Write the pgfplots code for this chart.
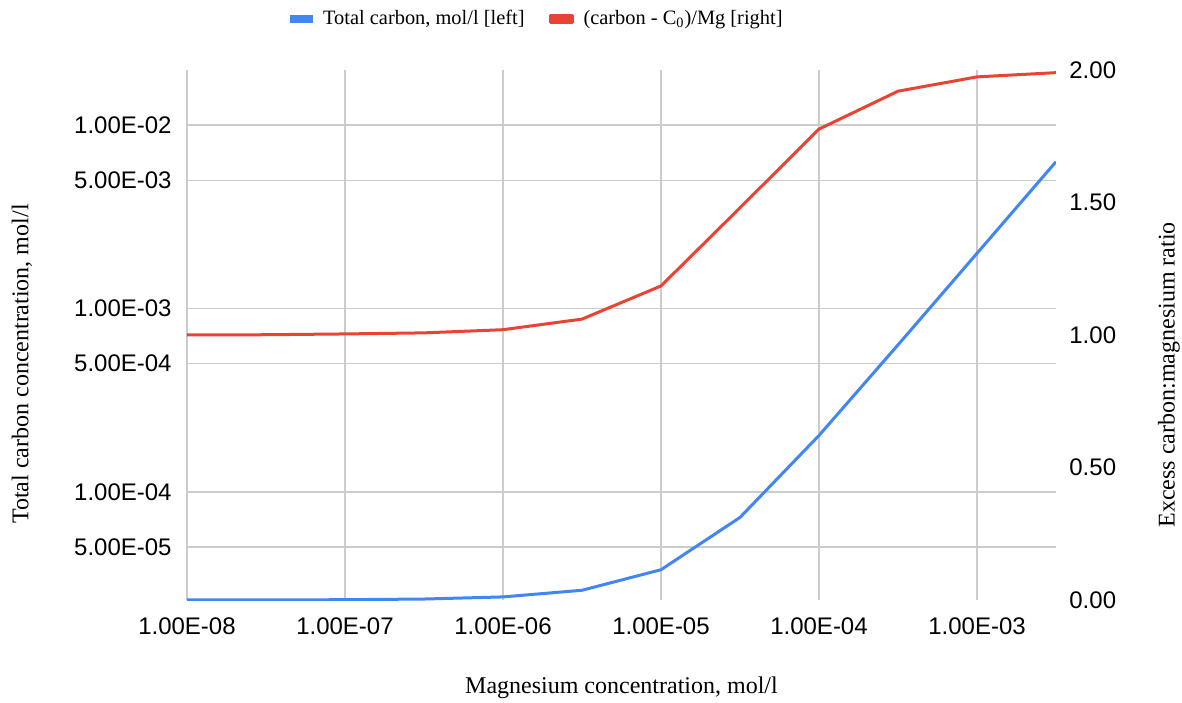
\documentclass[border=0pt]{standalone}
\usepackage{pgfplots}
\pgfplotsset{compat=1.18}
\usepackage{fontspec}
\setmainfont{Liberation Serif}
\newfontfamily\arialf{Liberation Sans}

\definecolor{cblue}{HTML}{4285F4}
\definecolor{cred}{HTML}{EA4335}
\definecolor{gridgray}{HTML}{CCCCCC}

\begin{document}
\begin{tikzpicture}
\useasboundingbox (0,0) rectangle (591pt,351pt);

% left axis: total carbon (log)
\begin{axis}[
    scale only axis,
    width=434.5pt, height=265pt,
    at={(93.5pt,51pt)},
    xmode=log, ymode=log,
    xmin=1e-8, xmax=3.162e-3,
    ymin=2.57e-5, ymax=2.0e-2,
    axis line style={draw=none},
    tick style={draw=none},
    xminorticks=false, yminorticks=false,
    major tick length=0pt,
    tick label style={font=\arialf\fontsize{12}{14}\selectfont},
    label style={font=\fontsize{12}{14}\selectfont},
    xtick={1e-8,1e-7,1e-6,1e-5,1e-4,1e-3},
    xticklabels={1.00E-08,1.00E-07,1.00E-06,1.00E-05,1.00E-04,1.00E-03},
    ytick={5e-5,1e-4,5e-4,1e-3,5e-3,1e-2},
    yticklabels={5.00E-05,1.00E-04,5.00E-04,1.00E-03,5.00E-03,1.00E-02},
    xticklabel style={anchor=north, inner sep=0pt, yshift=-8.5pt},
    yticklabel style={anchor=east, inner sep=0pt, xshift=-7.5pt},
    xmajorgrids, ymajorgrids,
    major grid style={gridgray, line width=0.75pt},
    xlabel={Magnesium concentration, mol/l},
    xlabel style={at={(axis description cs:0.5,-0.166)}, anchor=center},
    ylabel={Total carbon concentration, mol/l},
    ylabel style={at={(axis description cs:-0.19,0.445)}, anchor=center},
]
\addplot[cblue, line width=1.5pt, line join=round] coordinates {
    (1e-8,2.571e-5) (3.162e-8,2.573e-5) (1e-7,2.580e-5) (3.162e-7,2.602e-5)
    (1e-6,2.672e-5) (3.162e-6,2.905e-5) (1e-5,3.76e-5) (3.162e-5,7.25e-5)
    (1e-4,2.03e-4) (3.162e-4,6.33e-4) (1e-3,2.0e-3) (3.162e-3,6.32e-3)
};
\end{axis}

% right axis: excess carbon / Mg ratio
\begin{axis}[
    scale only axis,
    width=434.5pt, height=265pt,
    at={(93.5pt,51pt)},
    xmode=log,
    xmin=1e-8, xmax=3.162e-3,
    ymin=0, ymax=2,
    axis line style={draw=none},
    tick style={draw=none},
    xminorticks=false, yminorticks=false,
    major tick length=0pt,
    hide x axis,
    tick label style={font=\arialf\fontsize{12}{14}\selectfont},
    label style={font=\fontsize{12}{14}\selectfont},
    ytick={0,0.5,1,1.5,2},
    yticklabels={0.00,0.50,1.00,1.50,2.00},
    ytick pos=right,
    yticklabel pos=right,
    yticklabel style={anchor=west, inner sep=0pt, xshift=6.5pt},
    ylabel={Excess carbon:magnesium ratio},
    ylabel style={at={(axis description cs:1.13,0.425)}, anchor=center},
    legend columns=2,
    legend style={
        at={(axis description cs:0.1185,1.096)}, anchor=west,
        draw=none, fill=none, inner sep=0pt,
        font=\fontsize{10.2}{12}\selectfont,
        /tikz/every odd column/.append style={column sep=3pt},
        /tikz/every even column/.append style={column sep=10pt},
    },
    legend image code/.code={\fill[#1] (0pt,-1.75pt) rectangle (11pt,1.75pt);},
]
\addlegendimage{cblue}
\addlegendentry{Total carbon, mol/l [left]}
\addplot[cred, line width=1.5pt, line join=round] coordinates {
    (1e-8,1.000) (3.162e-8,1.001) (1e-7,1.004) (3.162e-7,1.008)
    (1e-6,1.02) (3.162e-6,1.06) (1e-5,1.185) (3.162e-5,1.48)
    (1e-4,1.777) (3.162e-4,1.92) (1e-3,1.974) (3.162e-3,1.99)
};
\addlegendentry{(carbon - C\textsubscript{0})/Mg [right]}
\end{axis}
\end{tikzpicture}
\end{document}
